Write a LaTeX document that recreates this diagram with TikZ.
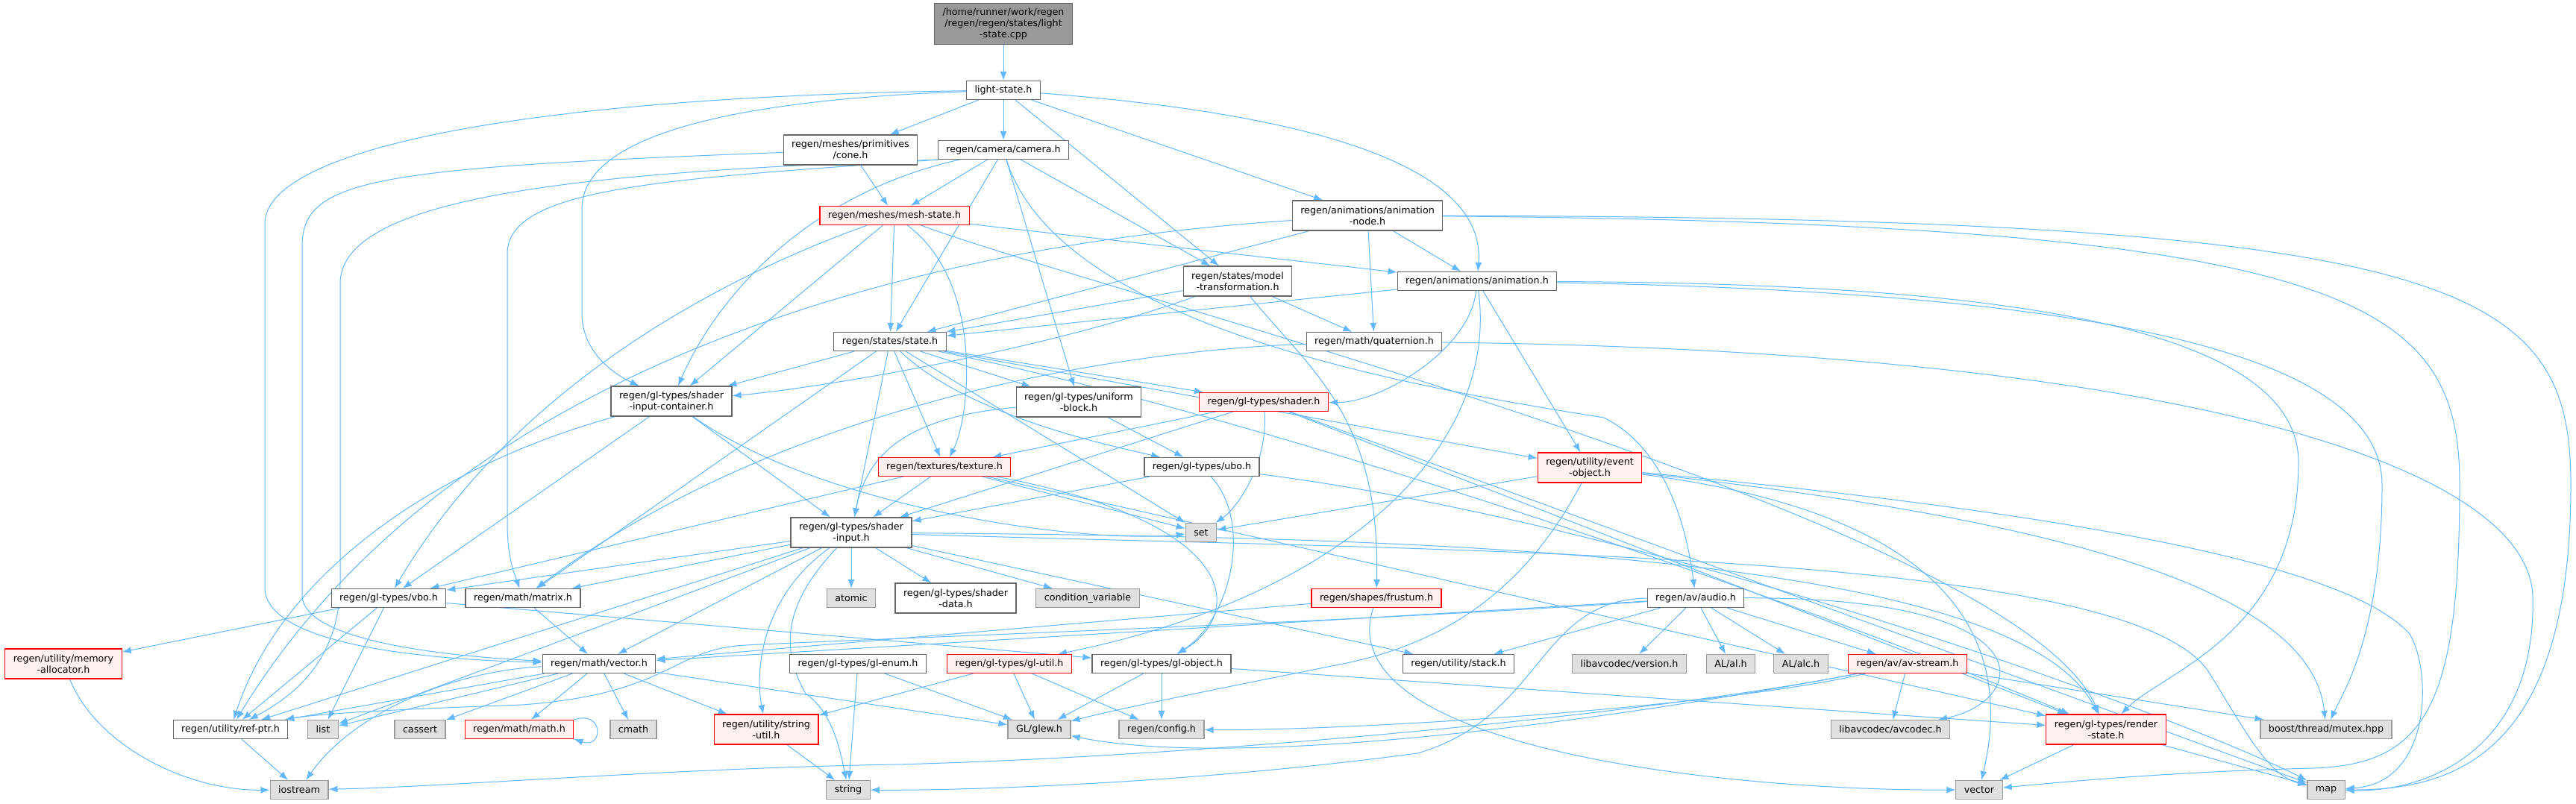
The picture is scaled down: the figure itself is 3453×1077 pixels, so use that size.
\documentclass[tikz,border=0pt]{standalone}
\usepackage{fontspec}
\setmainfont{DejaVu Sans}
\usetikzlibrary{arrows.meta}

\definecolor{edgeblue}{HTML}{63B8FF}
\definecolor{boxgray}{HTML}{666666}
\definecolor{sysfill}{HTML}{E0E0E0}
\definecolor{sysline}{HTML}{999999}
\definecolor{redfill}{HTML}{FFF0F0}
\definecolor{rootfill}{HTML}{999999}

\pgfdeclarelayer{bg}
\pgfsetlayers{bg,main}

\begin{document}
\begin{tikzpicture}[
    x=1pt, y=-1pt,
    box/.style={draw=boxgray, fill=white, line width=1.2pt, align=center, minimum height=25pt,
      inner xsep=11pt, inner ysep=2pt, font=\fontsize{12.7}{15}\selectfont},
    tall/.style={minimum height=40pt},
    redbox/.style={box, draw=red, fill=redfill},
    sysbox/.style={box, draw=sysline, fill=sysfill},
    rootbox/.style={box, fill=rootfill, minimum height=55pt},
    arr/.style={-{Latex[length=12pt,width=9pt]}, draw=edgeblue, line width=1pt}
]
% files, row by row
\node[rootbox] (root) at (1345,32) {/home/runner/work/regen\\/regen/regen/states/light\\-state.cpp};
\node[box] (lightstate) at (1345,121) {light-state.h};
\node[box, tall] (cone) at (1140,201) {regen/meshes/primitives\\/cone.h};
\node[box] (camera) at (1345,201) {regen/camera/camera.h};
\node[redbox] (meshstate) at (1199,289) {regen/meshes/mesh-state.h};
\node[box, tall] (animnode) at (1833,289) {regen/animations/animation\\-node.h};
\node[box, tall] (modeltrans) at (1659,377) {regen/states/model\\-transformation.h};
\node[box] (animation) at (1980,377) {regen/animations/animation.h};
\node[box] (state) at (1193,458) {regen/states/state.h};
\node[box] (quaternion) at (1842,458) {regen/math/quaternion.h};
\node[box, tall] (sic) at (900,538) {regen/gl-types/shader\\-input-container.h};
\node[box, tall] (ublock) at (1446,539) {regen/gl-types/uniform\\-block.h};
\node[redbox] (shader) at (1694,539) {regen/gl-types/shader.h};
\node[redbox] (texture) at (1266,626) {regen/textures/texture.h};
\node[box] (ubo) at (1611,626) {regen/gl-types/ubo.h};
\node[redbox, tall] (event) at (2131,627) {regen/utility/event\\-object.h};
\node[box, tall] (sinput) at (1141,714) {regen/gl-types/shader\\-input.h};
\node[sysbox] (set) at (1610,714) {set};
\node[box] (vbo) at (521,802) {regen/gl-types/vbo.h};
\node[box] (matrix) at (701,802) {regen/math/matrix.h};
\node[sysbox] (atomic) at (1141,802) {atomic};
\node[box, tall] (sdata) at (1281,802) {regen/gl-types/shader\\-data.h};
\node[sysbox] (condvar) at (1458,802) {condition\_variable};
\node[redbox] (frustum) at (1845,802) {regen/shapes/frustum.h};
\node[box] (audio) at (2273,802) {regen/av/audio.h};
\node[redbox, tall] (memalloc) at (85,890) {regen/utility/memory\\-allocator.h};
\node[box] (vector) at (803,890) {regen/math/vector.h};
\node[box] (glenum) at (1150,890) {regen/gl-types/gl-enum.h};
\node[redbox] (glutil) at (1353,890) {regen/gl-types/gl-util.h};
\node[box] (globject) at (1557,890) {regen/gl-types/gl-object.h};
\node[box] (stack) at (1955,890) {regen/utility/stack.h};
\node[sysbox] (avversion) at (2184,890) {libavcodec/version.h};
\node[sysbox] (al) at (2320,890) {AL/al.h};
\node[sysbox] (alc) at (2414,890) {AL/alc.h};
\node[redbox] (avstream) at (2557,890) {regen/av/av-stream.h};
\node[box] (refptr) at (309,978) {regen/utility/ref-ptr.h};
\node[sysbox] (list) at (433,978) {list};
\node[sysbox] (cassert) at (563,978) {cassert};
\node[redbox] (math) at (696,978) {regen/math/math.h};
\node[sysbox] (cmath) at (849,978) {cmath};
\node[redbox, tall] (strutil) at (1027,978) {regen/utility/string\\-util.h};
\node[sysbox] (glew) at (1393,978) {GL/glew.h};
\node[sysbox] (config) at (1557,978) {regen/config.h};
\node[sysbox] (avcodec) at (2534,978) {libavcodec/avcodec.h};
\node[redbox, tall] (renderstate) at (2823,978) {regen/gl-types/render\\-state.h};
\node[sysbox] (mutex) at (3118,978) {boost/thread/mutex.hpp};
\node[sysbox] (iostream) at (401,1059) {iostream};
\node[sysbox] (string) at (1137,1059) {string};
\node[sysbox] (vectorstd) at (2653,1059) {vector};
\node[sysbox] (map) at (3118,1059) {map};

\begin{pgfonlayer}{bg}
\path[use as bounding box, fill=white] (0,0) rectangle (3453,1077);
% includes
\draw[arr] (root) -- (lightstate);
\draw[arr] (lightstate) -- (cone);
\draw[arr] (lightstate) -- (camera);
\draw[arr] (lightstate) -- (modeltrans);
\draw[arr] (lightstate) -- (animnode);
\draw[arr] (lightstate) .. controls (1850,160) and (1990,250) .. (animation);
\draw[arr] (lightstate) .. controls (950,135) and (780,190) .. (780,280) -- (780,420) .. controls (780,470) and (820,500) .. (sic);
\draw[arr] (lightstate) .. controls (700,130) and (355,200) .. (355,300) -- (355,790) .. controls (360,870) and (600,885) .. (vector);
\draw[arr] (cone) -- (meshstate);
\draw[arr] (cone) .. controls (500,225) and (405,240) .. (405,330) -- (405,800) .. controls (410,860) and (600,880) .. (vector);
\draw[arr] (camera) -- (meshstate);
\draw[arr] (camera) -- (state);
\draw[arr] (camera) -- (ublock);
\draw[arr] (camera) -- (modeltrans);
\draw[arr] (camera) .. controls (1080,260) and (960,400) .. (sic);
\draw[arr] (camera.south west) .. controls (800,230) and (456,260) .. (456,380) -- (456,780) .. controls (456,880) and (400,930) .. (refptr);
\draw[arr] (camera.south west) .. controls (900,240) and (680,250) .. (680,340) -- (680,700) .. controls (680,750) and (690,770) .. (matrix);
\draw[arr] (camera) .. controls (1420,440) and (1900,520) .. (2150,560) .. controls (2230,600) and (2260,700) .. (audio);
\draw[arr] (meshstate) -- (state);
\draw[arr] (meshstate) -- (sic);
\draw[arr] (meshstate) -- (animation);
\draw[arr] (meshstate) .. controls (1000,360) and (700,500) .. (vbo);
\draw[arr] (meshstate) .. controls (1320,380) and (1300,560) .. (texture);
\draw[arr] (meshstate) .. controls (1500,400) and (2700,700) .. (renderstate);
\draw[arr] (animnode) -- (quaternion);
\draw[arr] (animnode) -- (animation);
\draw[arr] (animnode) -- (state);
\draw[arr] (animnode) .. controls (1200,330) and (600,500) .. (refptr);
\draw[arr] (animnode) .. controls (3300,292) and (3446,380) .. (3446,650) .. controls (3446,1000) and (3300,1059) .. (map);
\draw[arr] (animnode) .. controls (3150,300) and (3297,400) .. (3297,650) .. controls (3297,950) and (3250,1025) .. (3100,1030) .. controls (2900,1035) and (2750,1050) .. (vectorstd);
\draw[arr] (animation) -- (state);
\draw[arr] (animation) .. controls (1970,470) and (1850,540) .. (shader);
\draw[arr] (animation) -- (event);
\draw[arr] (animation) .. controls (2010,600) and (1800,800) .. (glutil);
\draw[arr] (animation) .. controls (2600,380) and (3081,420) .. (3081,620) .. controls (3081,850) and (2900,900) .. (renderstate);
\draw[arr] (animation) .. controls (2700,390) and (3193,450) .. (3193,650) .. controls (3193,850) and (3140,930) .. (mutex);
\draw[arr] (modeltrans) -- (state);
\draw[arr] (modeltrans) -- (quaternion);
\draw[arr] (modeltrans) .. controls (1400,470) and (1100,520) .. (sic);
\draw[arr] (modeltrans) .. controls (1760,500) and (1850,560) .. (frustum);
\draw[arr] (state) -- (sic);
\draw[arr] (state) -- (ublock);
\draw[arr] (state) -- (shader);
\draw[arr] (state) -- (texture);
\draw[arr] (state) -- (sinput);
\draw[arr] (state) -- (set);
\draw[arr] (state) -- (matrix);
\draw[arr] (state) -- (event);
\draw[arr] (state) .. controls (1300,560) and (1500,600) .. (ubo);
\draw[arr] (state) .. controls (1700,560) and (2400,800) .. (renderstate);
\draw[arr] (quaternion) .. controls (1500,470) and (1050,540) .. (matrix);
\draw[arr] (quaternion) .. controls (2900,470) and (3390,620) .. (3395,800) .. controls (3400,1000) and (3260,1062) .. (map);
\draw[arr] (ublock) .. controls (1200,560) and (1160,620) .. (sinput);
\draw[arr] (ublock) -- (ubo);
\draw[arr] (shader) -- (texture);
\draw[arr] (shader) -- (sinput);
\draw[arr] (shader) .. controls (1700,620) and (1660,680) .. (set);
\draw[arr] (shader) -- (renderstate);
\draw[arr] (shader) -- (map);
\draw[arr] (texture) -- (sinput);
\draw[arr] (texture) -- (set);
\draw[arr] (texture) -- (vbo);
\draw[arr] (texture) .. controls (1660,700) and (1670,820) .. (globject);
\draw[arr] (texture) -- (renderstate);
\draw[arr] (ubo) -- (sinput);
\draw[arr] (ubo) .. controls (1680,700) and (1650,830) .. (globject);
\draw[arr] (ubo) .. controls (2200,700) and (2900,950) .. (map);
\draw[arr] (event) -- (set);
\draw[arr] (event) .. controls (2050,780) and (1950,860) .. (1800,890) .. controls (1650,920) and (1500,950) .. (glew);
\draw[arr] (event) .. controls (2800,700) and (3100,800) .. (mutex);
\draw[arr] (event) .. controls (2800,690) and (3150,760) .. (3230,850) .. controls (3260,900) and (3260,1050) .. (map);
\draw[arr] (event) .. controls (2620,690) and (2700,860) .. (vectorstd);
\draw[arr] (sic) -- (sinput);
\draw[arr] (sic) -- (vbo);
\draw[arr] (sic) .. controls (1100,680) and (1450,730) .. (set);
\draw[arr] (sic) .. controls (600,620) and (380,760) .. (refptr);
\draw[arr] (sinput) -- (vbo);
\draw[arr] (sinput) -- (matrix);
\draw[arr] (sinput) -- (vector);
\draw[arr] (sinput) -- (refptr);
\draw[arr] (sinput) -- (list);
\draw[arr] (sinput) -- (atomic);
\draw[arr] (sinput) -- (sdata);
\draw[arr] (sinput) -- (condvar);
\draw[arr] (sinput) -- (stack);
\draw[arr] (sinput) .. controls (1020,800) and (1012,900) .. (strutil);
\draw[arr] (sinput) .. controls (1060,800) and (1040,860) .. (1080,930) .. controls (1115,955) and (1125,1000) .. (string);
\draw[arr] (sinput) .. controls (1900,720) and (2700,740) .. (renderstate);
\draw[arr] (sinput) .. controls (2000,740) and (2850,740) .. (2960,900) .. controls (3010,980) and (3040,1040) .. (map);
\draw[arr] (vbo) -- (memalloc);
\draw[arr] (vbo) -- (refptr);
\draw[arr] (vbo) -- (list);
\draw[arr] (vbo) -- (globject);
\draw[arr] (matrix) -- (vector);
\draw[arr] (vector) -- (refptr);
\draw[arr] (vector) -- (list);
\draw[arr] (vector) -- (cassert);
\draw[arr] (vector) -- (math);
\draw[arr] (vector) -- (cmath);
\draw[arr] (vector) -- (strutil);
\draw[arr] (vector) -- (glew);
\draw[arr] (vector) .. controls (600,900) and (470,960) .. (iostream);
\draw[arr] (math.10) .. controls +(40,-14) and +(40,14) .. (math.-10);
\draw[arr] (memalloc) .. controls (130,1000) and (250,1060) .. (iostream);
\draw[arr] (refptr) -- (iostream);
\draw[arr] (strutil) -- (string);
\draw[arr] (glenum) -- (glew);
\draw[arr] (glenum) -- (string);
\draw[arr] (glutil) -- (glew);
\draw[arr] (glutil) -- (config);
\draw[arr] (glutil) -- (strutil);
\draw[arr] (globject) -- (glew);
\draw[arr] (globject) -- (config);
\draw[arr] (globject) -- (renderstate);
\draw[arr] (frustum) -- (vector);
\draw[arr] (frustum) .. controls (1780,1000) and (2300,1060) .. (vectorstd);
\draw[arr] (audio) -- (vector);
\draw[arr] (audio) .. controls (1800,835) and (1200,855) .. (1000,865) .. controls (900,870) and (900,930) .. (700,945) .. controls (500,952) and (420,958) .. (refptr);
\draw[arr] (audio) -- (avversion);
\draw[arr] (audio) -- (al);
\draw[arr] (audio) -- (alc);
\draw[arr] (audio) -- (avstream);
\draw[arr] (audio) -- (stack);
\draw[arr] (audio) .. controls (2750,800) and (2720,940) .. (avcodec);
\draw[arr] (audio.west) .. controls (2060,805) and (2070,960) .. (1900,1010) .. controls (1600,1050) and (1300,1060) .. (string);
\draw[arr] (avstream) -- (avcodec);
\draw[arr] (avstream) -- (mutex);
\draw[arr] (avstream) .. controls (2300,950) and (1800,980) .. (config);
\draw[arr] (avstream) .. controls (2300,940) and (1700,1040) .. (glew);
\draw[arr] (avstream) .. controls (2200,960) and (1600,1015) .. (1200,1025) .. controls (900,1030) and (600,1055) .. (iostream);
\draw[arr] (renderstate) -- (vectorstd);
\draw[arr] (renderstate) -- (map);
\end{pgfonlayer}
\end{tikzpicture}
\end{document}
